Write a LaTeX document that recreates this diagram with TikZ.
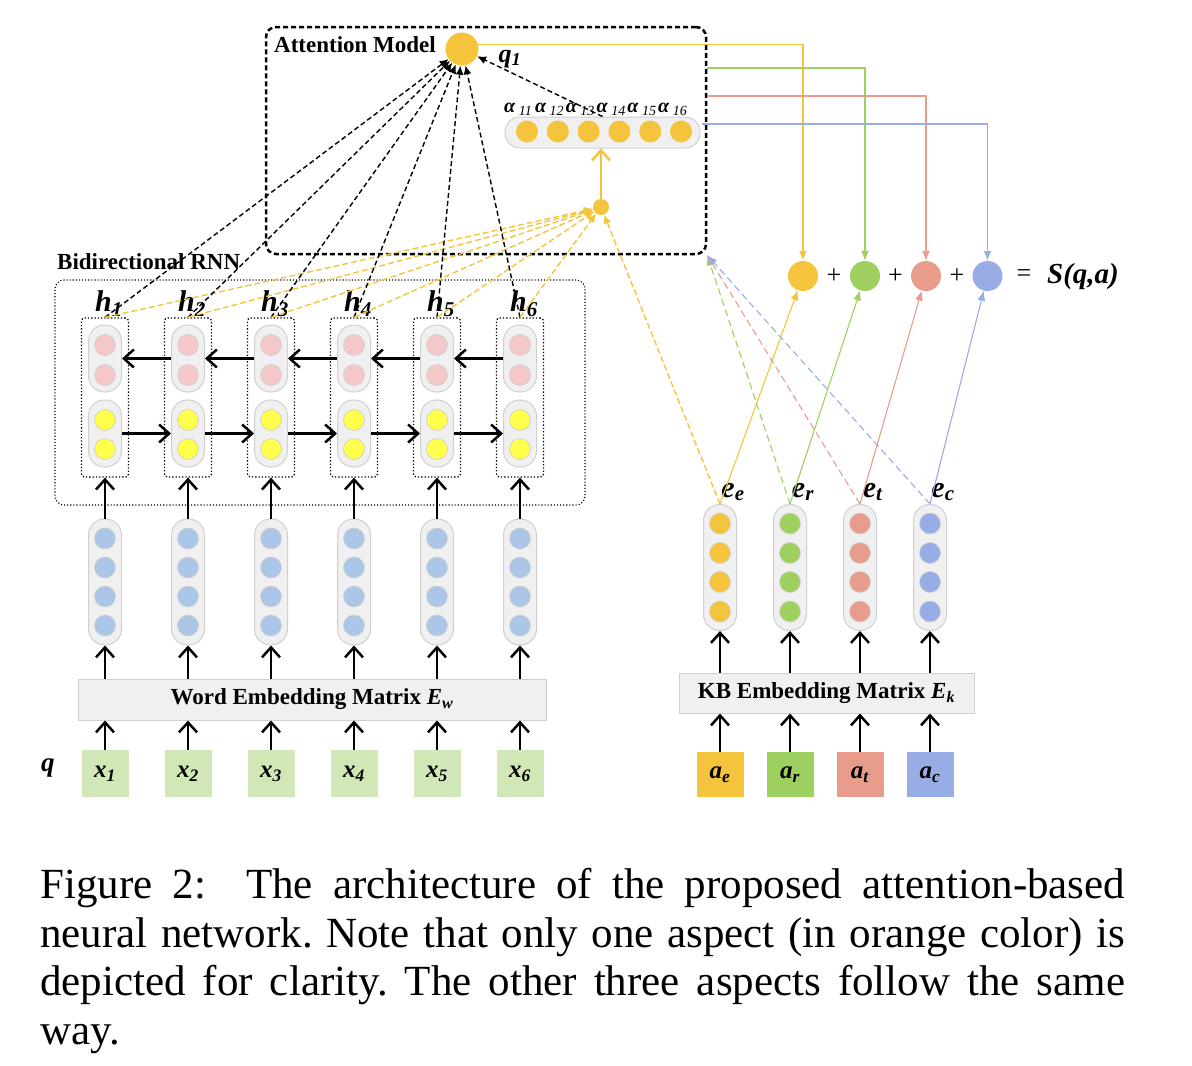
\documentclass[tikz,border=0pt]{standalone}
\usepackage{fontspec}
\setmainfont{Liberation Serif}
\usetikzlibrary{arrows.meta,calc}
\definecolor{cyel}{RGB}{244,196,60}
\definecolor{cgrn}{RGB}{157,208,95}
\definecolor{cred}{RGB}{232,157,140}
\definecolor{cblu}{RGB}{152,173,230}
\definecolor{cpink}{RGB}{244,200,200}
\definecolor{cbright}{RGB}{255,255,77}
\definecolor{clblue}{RGB}{172,198,232}
\definecolor{capfill}{RGB}{240,240,240}
\definecolor{capdraw}{RGB}{208,208,208}
\definecolor{xgreen}{RGB}{209,232,182}
\newcommand\mylab[2]{\textbf{\textit{#1}\textsubscript{\textit{#2}}}}
\begin{document}
\begin{tikzpicture}[x=1pt,y=-1pt,
  capsule/.style={draw=capdraw, fill=capfill, line width=1pt, rounded corners=16pt, minimum width=33pt, inner sep=0},
  cdot/.style={circle, draw=capdraw, line width=0.7pt, minimum size=21pt, inner sep=0},
  hbox/.style={draw, dotted, line width=1.3pt, rounded corners=3pt, minimum width=47pt, minimum height=159pt, inner sep=0},
  arr/.style={line width=2.5pt, -{Straight Barb[length=10pt,width=18pt]}},
  blackdash/.style={line width=1.4pt, dash pattern=on 5pt off 3pt, -{Latex[length=9pt,width=8pt]}},
  yeldash/.style={cyel, line width=1.4pt, dash pattern=on 6pt off 3pt, -{Latex[length=9pt,width=8pt]}},
  thinarr/.style={line width=1.1pt, -{Latex[length=10pt,width=8pt]}},
  thindash/.style={line width=1.1pt, dash pattern=on 7pt off 4pt, -{Latex[length=10pt,width=8pt]}},
  matbox/.style={draw=capdraw, fill=capfill, line width=1pt, inner sep=0, font=\bfseries\fontsize{23}{23}\selectfont},
  inbox/.style={minimum width=47pt, minimum height=47pt, inner sep=0, font=\fontsize{25}{25}\selectfont},
  hlab/.style={font=\fontsize{30}{30}\selectfont, inner sep=0},
  sumc/.style={circle, minimum size=30pt, inner sep=0},
  optxt/.style={font=\fontsize{26}{26}\selectfont, inner sep=0}
]
\useasboundingbox (0,0) rectangle (1192,1066);

% ---------------- Attention model ----------------
\node[draw, line width=2.5pt, dash pattern=on 5pt off 3pt, rounded corners=10pt,
      minimum width=440pt, minimum height=227pt, inner sep=0] (attn) at (486,140.5) {};
\node[anchor=west, font=\bfseries\fontsize{23}{23}\selectfont, inner sep=0] (attl) at (274,45) {Attention Model};
\node[circle, fill=cyel, minimum size=33pt, inner sep=0] (q1) at (462,49) {};
\node[anchor=base, font=\fontsize{26}{26}\selectfont, inner sep=0] (q1l) at (510,62) {\mylab{q}{1}};
\node[capsule, rounded corners=15pt, minimum width=195pt, minimum height=31pt] (abar) at (602.5,132.5) {};
\foreach \k in {1,...,6} {
  \pgfmathsetmacro\ax{527+30.8*(\k-1)}
  \node[circle, fill=cyel, minimum size=22pt, inner sep=0] (al\k) at (\ax,131.5) {};
  \node[anchor=base west, font=\fontsize{20}{20}\selectfont, inner sep=0] (alt\k) at (\ax-23,112)
     {\textbf{\textit{α}}\,\textsubscript{\textit{1\k}}};
}
\node[circle, fill=cyel, minimum size=16pt, inner sep=0] (sc) at (601,207) {};
\draw[arr, cyel] (sc.north) -- (sc.north |- abar.south);
\draw[blackdash] (abar.north) -- (q1);

% ---------------- Bidirectional RNN ----------------
\node[draw, dotted, line width=1.1pt, rounded corners=9pt, minimum width=530pt, minimum height=225pt, inner sep=0] (brnn) at (320,392.5) {};
\node[anchor=west, font=\bfseries\fontsize{23}{23}\selectfont, inner sep=0] (brnnl) at (57,262) {Bidirectional RNN};

\node[matbox, minimum width=468pt, minimum height=41pt] (wem) at (312,699.5)
   {Word Embedding Matrix \textit{E}\textsubscript{\textit{w}}};
\node[font=\fontsize{27}{27}\selectfont, inner sep=0] (ql) at (48,768) {\textbf{\textit{q}}};

\foreach \i in {1,...,6} {
  \pgfmathsetmacro\cx{105+83*(\i-1)}
  \node[hbox] (hb\i) at (\cx,397.5) {};
  \node[capsule, minimum height=67pt] (up\i) at (\cx,358.5) {};
  \node[cdot, fill=cpink] (pa\i) at (\cx,345) {};
  \node[cdot, fill=cpink] (pb\i) at (\cx,375) {};
  \node[capsule, minimum height=67pt] (lo\i) at (\cx,433.5) {};
  \node[cdot, fill=cbright] (ya\i) at (\cx,420) {};
  \node[cdot, fill=cbright] (yb\i) at (\cx,449) {};
  \node[hlab, anchor=base] (hl\i) at (\cx+4,311) {\mylab{h}{\i}};
  \node[capsule, minimum height=126pt] (em\i) at (\cx,582) {};
  \foreach \d/\dy in {a/-43.5,b/-14.5,c/14.5,d/43.5}
    \node[cdot, fill=clblue] (b\d\i) at (\cx,582+\dy) {};
  \node[inbox, fill=xgreen] (x\i) at (\cx,773.5) {\mylab{x}{\i}};
  \draw[arr] (x\i.north) -- (x\i.north |- wem.south);
  \draw[arr] (wem.north -| em\i.south) -- (em\i.south);
  \draw[arr] (em\i.north) -- (hb\i.south);
}
\foreach \i [evaluate=\i as \j using int(\i+1)] in {1,...,5} {
  \draw[arr] (lo\i.east) -- (lo\j.west);
  \draw[arr] (up\j.west) -- (up\i.east);
}
\foreach \i in {1,...,6} {
  \draw[blackdash] (hb\i.north) -- (q1);
  \draw[yeldash] (hb\i.north) -- (sc);
}

% ---------------- KB side ----------------
\node[matbox, minimum width=295pt, minimum height=40pt] (kbm) at (826.5,693)
   {KB Embedding Matrix \textit{E}\textsubscript{\textit{k}}};
\foreach \k/\col/\sub in {1/cyel/e,2/cgrn/r,3/cred/t,4/cblu/c} {
  \pgfmathsetmacro\kx{720+70*(\k-1)}
  \node[capsule, minimum height=126pt] (ke\k) at (\kx,567.5) {};
  \foreach \d/\dy in {a/-44,b/-14.5,c/14.5,d/44}
    \node[cdot, fill=\col] (k\d\k) at (\kx,567.5+\dy) {};
  \node[hlab, anchor=base] (el\k) at (\kx+13,497) {\mylab{e}{\sub}};
  \node[inbox, fill=\col, minimum height=45pt] (a\k) at (\kx,774.5) {\mylab{a}{\sub}};
  \draw[arr] (a\k.north) -- (a\k.north |- kbm.south);
  \draw[arr] (kbm.north -| ke\k.south) -- (ke\k.south);
}

% ---------------- score ----------------
\node[sumc, fill=cyel] (s1) at (803,276) {};
\node[sumc, fill=cgrn] (s2) at (865,276) {};
\node[sumc, fill=cred] (s3) at (926,276) {};
\node[sumc, fill=cblu] (s4) at (987.5,276) {};
\node[optxt] (p1) at (834,276) {+};
\node[optxt] (p2) at (895.5,276) {+};
\node[optxt] (p3) at (957,276) {+};
\node[optxt] (eq) at (1024,276) {=};
\node[font=\fontsize{29}{29}\selectfont, inner sep=0] (sqa) at (1083,277) {\textbf{\textit{S(q,a)}}};

\coordinate (g0) at (707,68);
\coordinate (r0) at (707,96);
\coordinate (b0) at (702,124);
\draw[thinarr, cyel] (q1.15) -| (s1.north);
\draw[thinarr, cgrn] (g0) -| (s2.north);
\draw[thinarr, cred] (r0) -| (s3.north);
\draw[thinarr, cblu] (b0) -| (s4.north);

\draw[thinarr, cyel] (ke1.north) -- (s1);
\draw[thinarr, cgrn] (ke2.north) -- (s2);
\draw[thinarr, cred] (ke3.north) -- (s3);
\draw[thinarr, cblu] (ke4.north) -- (s4);

\draw[yeldash] (ke1.north) -- (sc);
\draw[thindash, cgrn] (ke2.north) -- (attn.south east);
\draw[thindash, cred] (ke3.north) -- (attn.south east);
\draw[thindash, cblu] (ke4.north) -- (attn.south east);

% ---------------- caption ----------------
\node[anchor=north west, text width=1085pt, align=justify, inner sep=0,
      font=\frenchspacing\fontsize{43}{48.7}\selectfont] (cap) at (40,868)
 {Figure 2:\ \ The architecture of the proposed attention-based\linebreak
  neural network. Note that only one aspect (in orange color) is\linebreak
  depicted for clarity. The other three aspects follow the same\linebreak
  way.};
\end{tikzpicture}
\end{document}
